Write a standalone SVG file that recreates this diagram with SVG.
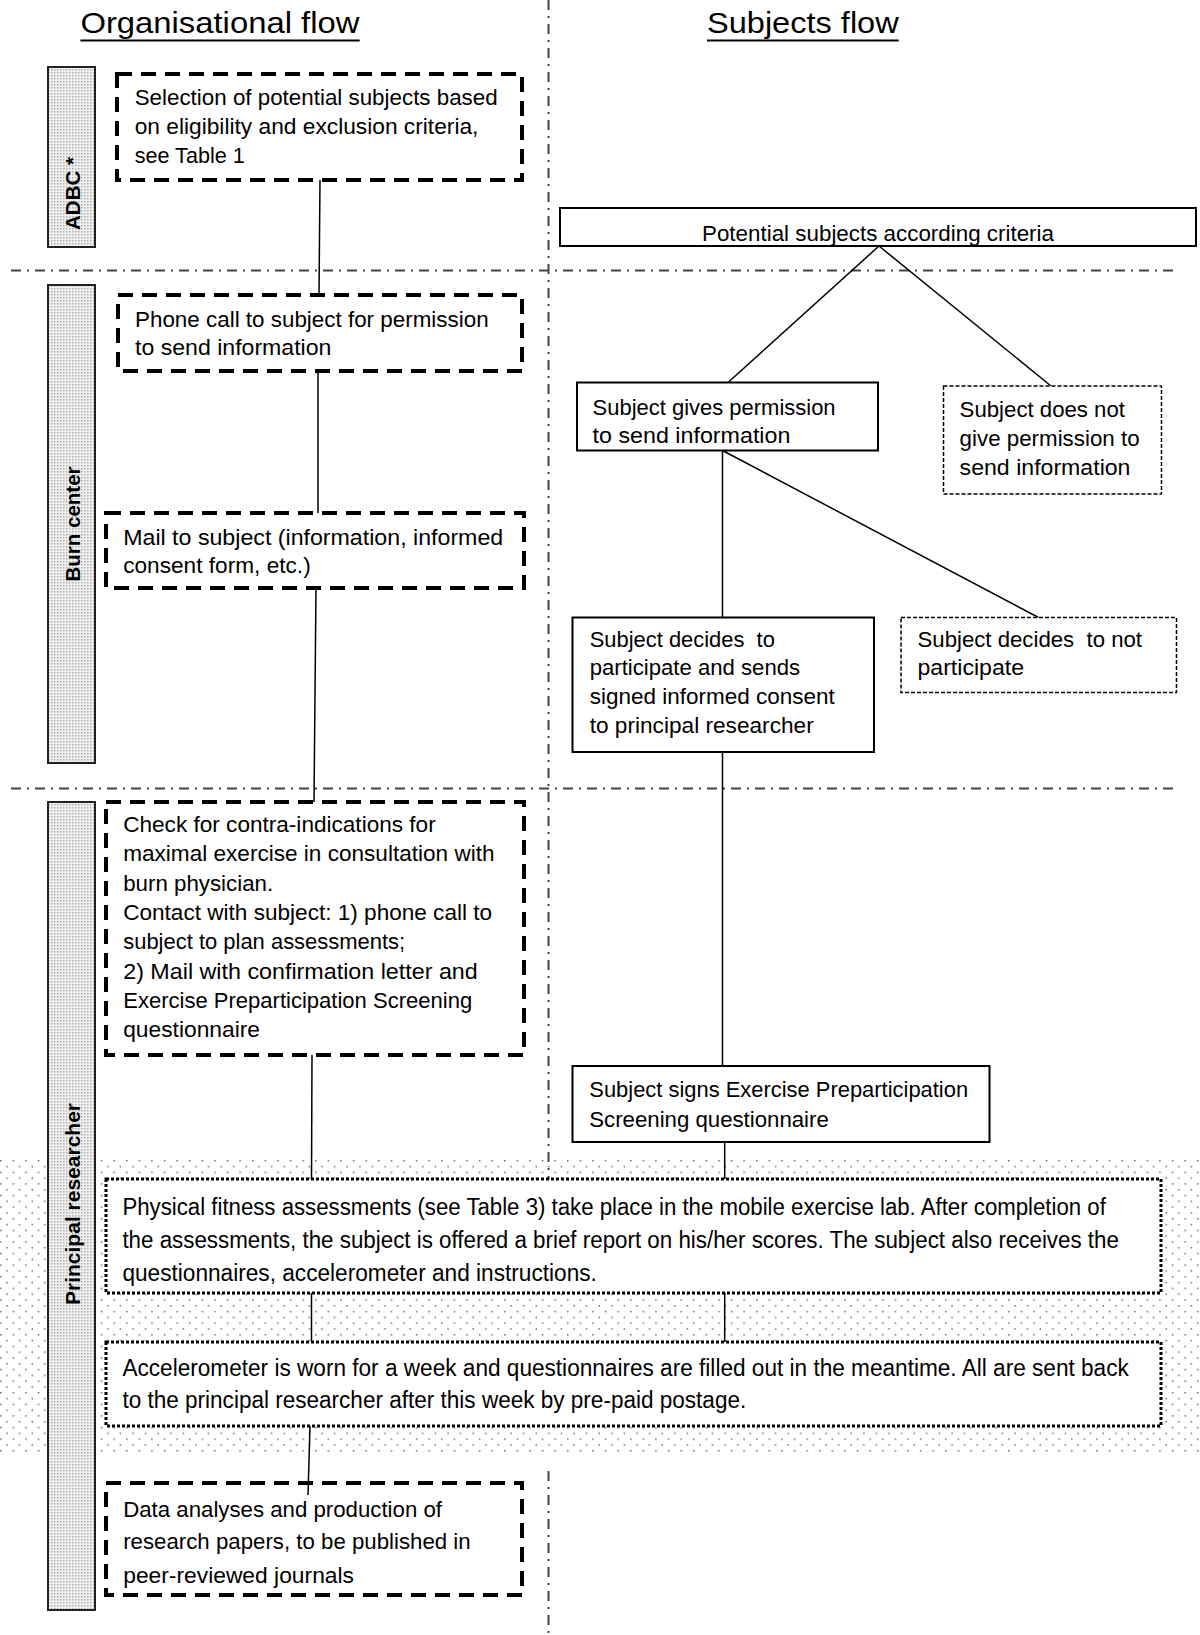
<svg xmlns="http://www.w3.org/2000/svg" width="1200" height="1635" viewBox="0 0 1200 1635">
<style>
text{font-family:"Liberation Sans",Arial,sans-serif;fill:#000}
.t{font-size:22.5px}
.tw{font-size:24.5px}
.title{font-size:30px}
.lane{font-size:21px;font-weight:bold}
.sep{stroke:#444;stroke-width:2;stroke-dasharray:10 6 2 6;fill:none}
.thick{fill:#fff;stroke:#000;stroke-width:4;stroke-dasharray:15 9}
.solid{fill:#fff;stroke:#000;stroke-width:2}
.thin{fill:#fff;stroke:#000;stroke-width:1.5;stroke-dasharray:4 2}
.dotb{fill:#fff;stroke:#000;stroke-width:3;stroke-dasharray:3 2}
.lanebox{fill:url(#laneFill);stroke:#222;stroke-width:2}
.conn line{stroke:#000;stroke-width:1.5}
</style>
<defs>
<pattern id="laneFill" width="3" height="3" patternUnits="userSpaceOnUse">
<rect width="3" height="3" fill="#f0f0f0"/>
<rect width="1.5" height="1.5" fill="#b0b0b0"/>
</pattern>
<pattern id="dots" width="12.6" height="11.6" patternUnits="userSpaceOnUse">
<rect x="0" y="0" width="1.5" height="1.5" fill="#707070"/>
<rect x="6.3" y="5.8" width="1.5" height="1.5" fill="#707070"/>
</pattern>
</defs>
<rect width="1200" height="1635" fill="#fff"/>
<rect x="0" y="1157" width="1200" height="298" fill="url(#dots)"/>

<g id="separators">
<line class="sep" x1="548.5" y1="0" x2="548.5" y2="1179"/>
<line class="sep" x1="548.5" y1="1471" x2="548.5" y2="1635"/>
<line class="sep" x1="11" y1="270.5" x2="1173" y2="270.5"/>
<line class="sep" x1="11" y1="788.5" x2="1173" y2="788.5"/>
</g>

<g id="titles">
<text class="title" x="80.4" y="33.3" textLength="279" lengthAdjust="spacingAndGlyphs">Organisational flow</text>
<line x1="80.4" y1="40.5" x2="359.7" y2="40.5" stroke="#000" stroke-width="2"/>
<text class="title" x="707" y="33.3" textLength="191.7" lengthAdjust="spacingAndGlyphs">Subjects flow</text>
<line x1="707" y1="40.5" x2="898.7" y2="40.5" stroke="#000" stroke-width="2"/>
</g>

<g id="lane-adbc">
<rect class="lanebox" x="48" y="67" width="47" height="180"/>
<text class="lane" transform="translate(80,193.5) rotate(-90)" text-anchor="middle" textLength="73" lengthAdjust="spacingAndGlyphs">ADBC *</text>
</g>
<g id="lane-burn">
<rect class="lanebox" x="48" y="285" width="47" height="478"/>
<text class="lane" transform="translate(80,524) rotate(-90)" text-anchor="middle" textLength="115" lengthAdjust="spacingAndGlyphs">Burn center</text>
</g>
<g id="lane-principal">
<rect class="lanebox" x="48" y="802" width="47" height="808"/>
<text class="lane" transform="translate(80,1204) rotate(-90)" text-anchor="middle" textLength="202" lengthAdjust="spacingAndGlyphs">Principal researcher</text>
</g>

<g id="connectors" class="conn">
<line x1="320" y1="180" x2="319" y2="295"/>
<line x1="318" y1="371" x2="318" y2="513"/>
<line x1="316" y1="588" x2="314" y2="802"/>
<line x1="312" y1="1055" x2="311.5" y2="1179"/>
<line x1="311.5" y1="1293" x2="311.5" y2="1342"/>
<line x1="310" y1="1426" x2="308" y2="1495"/>
<line x1="879" y1="246" x2="728" y2="382.5"/>
<line x1="879" y1="246" x2="1051" y2="386"/>
<line x1="722.5" y1="450.5" x2="722.5" y2="617.5"/>
<line x1="722.5" y1="450.5" x2="1038.5" y2="617.5"/>
<line x1="722.5" y1="752" x2="722.5" y2="1066"/>
<line x1="724.7" y1="1142" x2="724.7" y2="1179"/>
<line x1="724.7" y1="1293" x2="724.7" y2="1342"/>
</g>

<g id="n-selection">
<rect class="thick" x="117" y="74" width="405" height="106"/>
<text class="t" x="134.7" y="105" textLength="363" lengthAdjust="spacingAndGlyphs">Selection of potential subjects based</text>
<text class="t" x="134.7" y="134" textLength="343.7" lengthAdjust="spacingAndGlyphs">on eligibility and exclusion criteria,</text>
<text class="t" x="134.7" y="163" textLength="110" lengthAdjust="spacingAndGlyphs">see Table 1</text>
</g>

<g id="n-phone">
<rect class="thick" x="118" y="295" width="404" height="76"/>
<text class="t" x="135" y="326.7" textLength="353.6" lengthAdjust="spacingAndGlyphs">Phone call to subject for permission</text>
<text class="t" x="135" y="355" textLength="196.4" lengthAdjust="spacingAndGlyphs">to send information</text>
</g>

<g id="n-mail">
<rect class="thick" x="106" y="513" width="418" height="75"/>
<text class="t" x="123.2" y="545" textLength="380" lengthAdjust="spacingAndGlyphs">Mail to subject (information, informed</text>
<text class="t" x="123.2" y="573.3" textLength="187.5" lengthAdjust="spacingAndGlyphs">consent form, etc.)</text>
</g>

<g id="n-check">
<rect class="thick" x="106" y="802" width="418" height="253"/>
<text class="t" x="123.2" y="832" textLength="312.5" lengthAdjust="spacingAndGlyphs">Check for contra-indications for</text>
<text class="t" x="123.2" y="861.3" textLength="371.4" lengthAdjust="spacingAndGlyphs">maximal exercise in consultation with</text>
<text class="t" x="123.2" y="890.6" textLength="150" lengthAdjust="spacingAndGlyphs">burn physician.</text>
<text class="t" x="123.2" y="919.9" textLength="368.9" lengthAdjust="spacingAndGlyphs">Contact with subject: 1) phone call to</text>
<text class="t" x="123.2" y="949.2" textLength="282" lengthAdjust="spacingAndGlyphs">subject to plan assessments;</text>
<text class="t" x="123.2" y="978.5" textLength="354.6" lengthAdjust="spacingAndGlyphs">2) Mail with confirmation letter and</text>
<text class="t" x="123.2" y="1007.8" textLength="349" lengthAdjust="spacingAndGlyphs">Exercise Preparticipation Screening</text>
<text class="t" x="123.2" y="1037.1" textLength="136.8" lengthAdjust="spacingAndGlyphs">questionnaire</text>
</g>

<g id="n-potential">
<rect class="solid" x="560" y="208" width="636" height="38"/>
<text class="t" x="702" y="241" textLength="352" lengthAdjust="spacingAndGlyphs">Potential subjects according criteria</text>
</g>

<g id="n-gives">
<rect class="solid" x="577" y="382.5" width="301" height="68"/>
<text class="t" x="592.6" y="415" textLength="243" lengthAdjust="spacingAndGlyphs">Subject gives permission</text>
<text class="t" x="592.6" y="443.3" textLength="197.8" lengthAdjust="spacingAndGlyphs">to send information</text>
</g>

<g id="n-notgive">
<rect class="thin" x="943.5" y="386" width="218" height="108"/>
<text class="t" x="959.6" y="416.7" textLength="165.4" lengthAdjust="spacingAndGlyphs">Subject does not</text>
<text class="t" x="959.6" y="446" textLength="180" lengthAdjust="spacingAndGlyphs">give permission to</text>
<text class="t" x="959.6" y="475" textLength="170.9" lengthAdjust="spacingAndGlyphs">send information</text>
</g>

<g id="n-participate">
<rect class="solid" x="572.5" y="617.5" width="301.5" height="134.5"/>
<text class="t" x="589.7" y="646.5" textLength="185.2" lengthAdjust="spacingAndGlyphs" xml:space="preserve">Subject decides  to</text>
<text class="t" x="589.7" y="675.2" textLength="210.4" lengthAdjust="spacingAndGlyphs">participate and sends</text>
<text class="t" x="589.7" y="703.9" textLength="245" lengthAdjust="spacingAndGlyphs">signed informed consent</text>
<text class="t" x="589.7" y="732.6" textLength="224" lengthAdjust="spacingAndGlyphs">to principal researcher</text>
</g>

<g id="n-notparticipate">
<rect class="thin" x="901" y="617.5" width="275.5" height="75"/>
<text class="t" x="917.5" y="646.5" textLength="224.5" lengthAdjust="spacingAndGlyphs" xml:space="preserve">Subject decides  to not</text>
<text class="t" x="917.5" y="675.2" textLength="106.5" lengthAdjust="spacingAndGlyphs">participate</text>
</g>

<g id="n-signs">
<rect class="solid" x="572.5" y="1066" width="417" height="76"/>
<text class="t" x="589.3" y="1096.7" textLength="378.8" lengthAdjust="spacingAndGlyphs">Subject signs Exercise Preparticipation</text>
<text class="t" x="589.3" y="1126.7" textLength="239.5" lengthAdjust="spacingAndGlyphs">Screening questionnaire</text>
</g>

<g id="n-physical">
<rect class="dotb" x="106" y="1179" width="1055" height="114"/>
<text class="tw" transform="translate(122.4,1215) scale(0.88,1)" x="0" y="0" textLength="1117.6" lengthAdjust="spacingAndGlyphs">Physical fitness assessments (see Table 3) take place in the mobile exercise lab. After completion of</text>
<text class="tw" transform="translate(122.4,1248) scale(0.88,1)" x="0" y="0" textLength="1132.4" lengthAdjust="spacingAndGlyphs">the assessments, the subject is offered a brief report on his/her scores. The subject also receives the</text>
<text class="tw" transform="translate(122.4,1281) scale(0.88,1)" x="0" y="0" textLength="539.2" lengthAdjust="spacingAndGlyphs">questionnaires, accelerometer and instructions.</text>
</g>

<g id="n-accelerometer">
<rect class="dotb" x="106" y="1342" width="1055" height="84"/>
<text class="tw" transform="translate(122.4,1375.5) scale(0.88,1)" x="0" y="0" textLength="1143.6" lengthAdjust="spacingAndGlyphs">Accelerometer is worn for a week and questionnaires are filled out in the meantime. All are sent back</text>
<text class="tw" transform="translate(122.4,1408) scale(0.88,1)" x="0" y="0" textLength="708.9" lengthAdjust="spacingAndGlyphs">to the principal researcher after this week by pre-paid postage.</text>
</g>

<g id="n-data">
<rect class="thick" x="106" y="1483" width="416" height="112"/>
<line x1="308.5" y1="1481" x2="308" y2="1495" stroke="#000" stroke-width="1.5"/>
<text class="t" x="123.2" y="1516.7" textLength="318.8" lengthAdjust="spacingAndGlyphs">Data analyses and production of</text>
<text class="t" x="123.2" y="1549" textLength="347.5" lengthAdjust="spacingAndGlyphs">research papers, to be published in</text>
<text class="t" x="123.2" y="1583.3" textLength="230.8" lengthAdjust="spacingAndGlyphs">peer-reviewed journals</text>
</g>
</svg>
